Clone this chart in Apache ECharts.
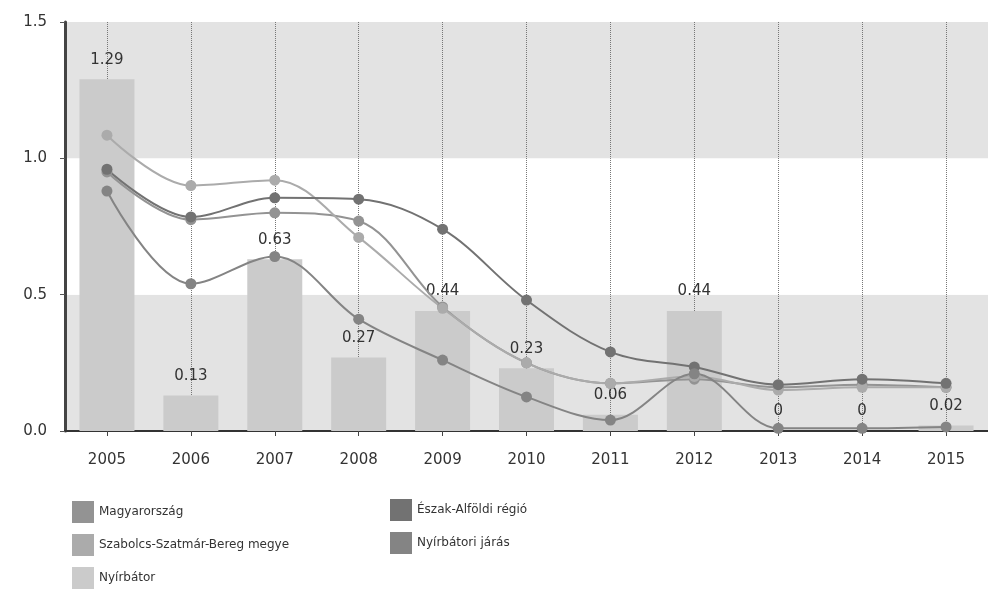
<!DOCTYPE html>
<html>
<head>
<meta charset="utf-8">
<script src="https://cdn.jsdelivr.net/npm/echarts@6/dist/echarts.min.js"></script>
<style>
html,body{margin:0;padding:0;background:#fff;}
#chart{width:988px;height:594px;}
</style>
</head>
<body>
<div id="chart"></div>
<script>
var categories = ['2005','2006','2007','2008','2009','2010','2011','2012','2013','2014','2015'];
var nyirbator = [1.29, 0.13, 0.63, 0.27, 0.44, 0.23, 0.06, 0.44, 0, 0, 0.02];
var magyarorszag = [0.95, 0.775, 0.80, 0.77, 0.455, 0.25, 0.175, 0.19, 0.16, 0.17, 0.16];
var eszakAlfold = [0.96, 0.785, 0.855, 0.85, 0.74, 0.48, 0.29, 0.235, 0.17, 0.19, 0.175];
var szabolcs = [1.085, 0.90, 0.92, 0.71, 0.45, 0.25, 0.175, 0.20, 0.15, 0.16, 0.16];
var nyirbatoriJaras = [0.88, 0.54, 0.64, 0.41, 0.26, 0.125, 0.04, 0.21, 0.01, 0.01, 0.015];
var yTicks = [0, 0.5, 1.0, 1.5];

var FONT = 'DejaVu Sans';
var chart = echarts.init(document.getElementById('chart'), null, {renderer: 'canvas'});

function lineSeries(name, data, color) {
  return {
    name: name, type: 'line', data: data, smooth: 0.35, z: 3,
    symbol: 'circle', symbolSize: 11,
    lineStyle: {color: color, width: 2},
    itemStyle: {color: color}
  };
}

var option = {
  animation: false,
  backgroundColor: '#ffffff',
  grid: {left: 65, right: -9, top: 22, bottom: 163},
  legend: [
    {
      orient: 'vertical', left: 72, top: 501, height: 93, padding: 0,
      itemWidth: 22, itemHeight: 22, itemGap: 11,
      icon: 'rect',
      textStyle: {fontFamily: FONT, fontSize: 12, color: '#333'},
      data: ['Magyarország', 'Szabolcs-Szatmár-Bereg megye', 'Nyírbátor']
    },
    {
      orient: 'vertical', left: 390, top: 499, height: 93, padding: 0,
      itemWidth: 22, itemHeight: 22, itemGap: 11,
      icon: 'rect',
      textStyle: {fontFamily: FONT, fontSize: 12, color: '#333'},
      data: ['Észak-Alföldi régió', 'Nyírbátori járás']
    }
  ],
  xAxis: {
    type: 'category', data: categories, boundaryGap: true,
    axisLine: {show: true, lineStyle: {color: '#333', width: 2}},
    axisTick: {show: true, alignWithLabel: true, length: 5, lineStyle: {color: '#444'}},
    axisLabel: {fontFamily: FONT, fontSize: 15, color: '#333', margin: 22},
    splitLine: {show: true, alignWithLabel: true, lineStyle: {color: '#777', type: 'dotted', width: 1}}
  },
  yAxis: {
    type: 'value', min: 0, max: 1.5, interval: 0.5,
    axisLine: {show: true, lineStyle: {color: '#444', width: 3}},
    axisTick: {show: true, length: 5, lineStyle: {color: '#555'}},
    axisLabel: {fontFamily: FONT, fontSize: 15, color: '#333', margin: 18,
      formatter: function (v) { return v.toFixed(1); }},
    splitLine: {show: false},
    splitArea: {show: true, areaStyle: {color: ['#e3e3e3', '#ffffff']}}
  },
  series: [
    {
      name: 'Nyírbátor', type: 'bar', data: nyirbator, barWidth: 55, z: 2,
      itemStyle: {color: '#cbcbcb'},
      label: {show: true, position: 'top', distance: 12, fontFamily: FONT, fontSize: 15, color: '#333'}
    },
    lineSeries('Magyarország', magyarorszag, '#939393'),
    lineSeries('Szabolcs-Szatmár-Bereg megye', szabolcs, '#ababab'),
    lineSeries('Észak-Alföldi régió', eszakAlfold, '#727272'),
    lineSeries('Nyírbátori járás', nyirbatoriJaras, '#848484')
  ]
};
chart.setOption(option);
</script>
</body>
</html>
